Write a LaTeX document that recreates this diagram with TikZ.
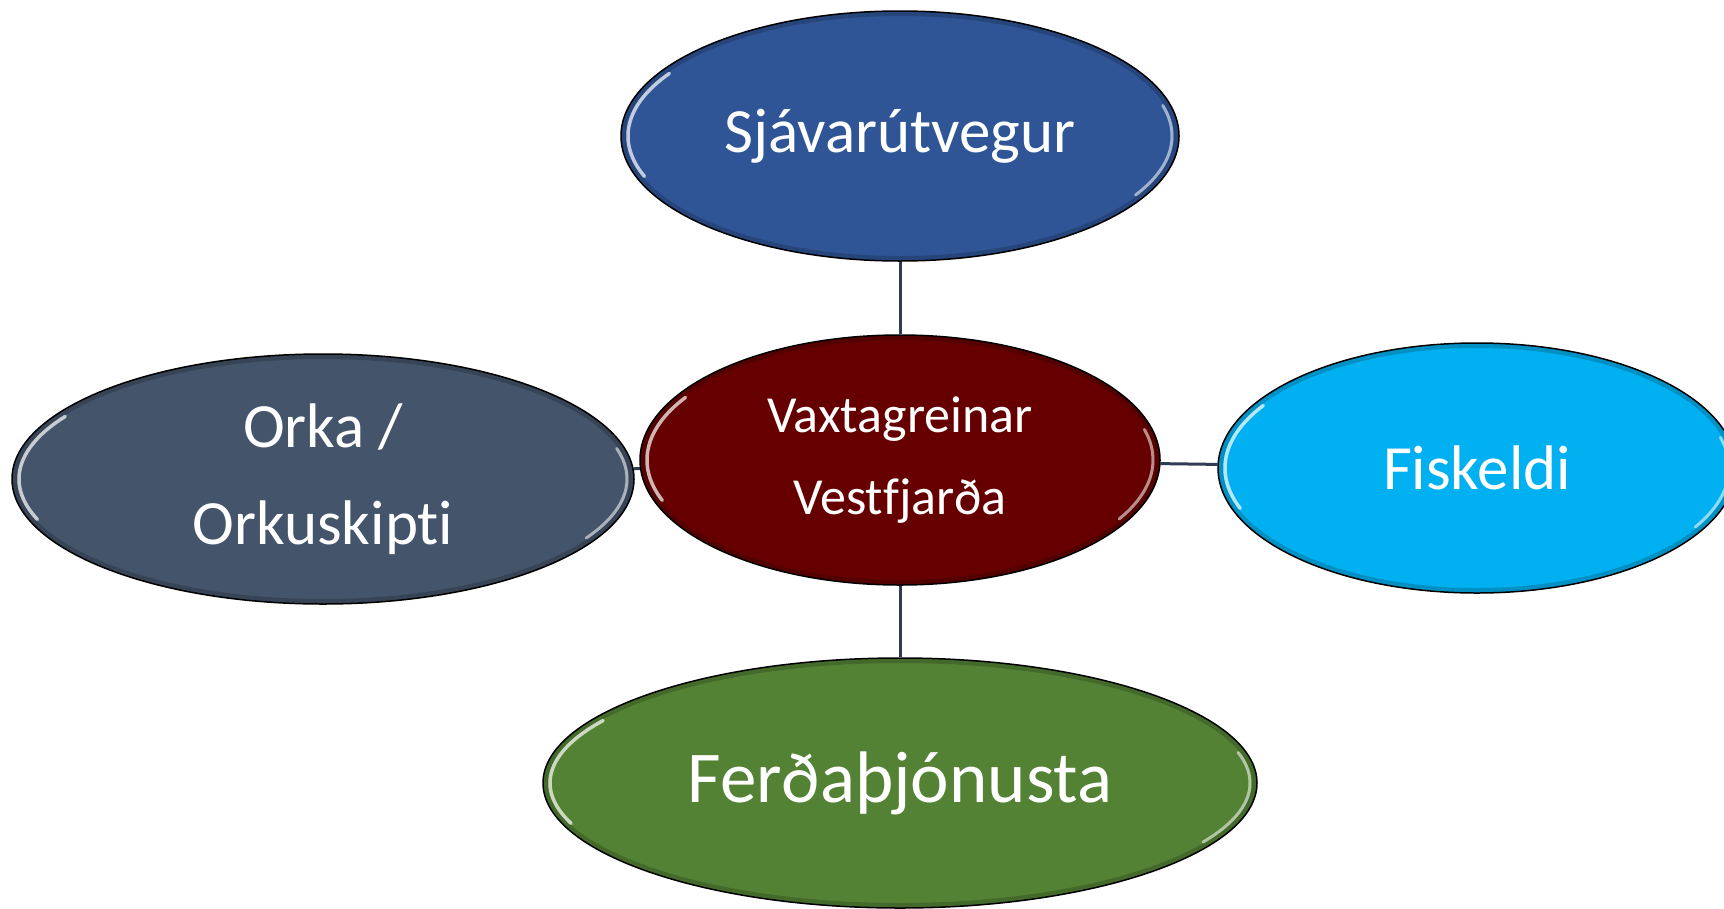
\documentclass[tikz,border=0pt]{standalone}
\usepackage{fontspec}
\setmainfont{Carlito}[Ligatures={NoCommon}]
\usetikzlibrary{shapes.geometric,backgrounds}
\definecolor{cTop}{HTML}{2F5597}
\definecolor{cMid}{HTML}{660000}
\definecolor{cLeft}{HTML}{44546A}
\definecolor{cRight}{HTML}{00B0F0}
\definecolor{cBot}{HTML}{548235}
\definecolor{cLink}{HTML}{2E3D52}
\tikzset{
  bubble/.style n args={3}{ellipse, fill=#1, draw=black, line width=1.5pt,
    inner sep=0pt, minimum width=#2, minimum height=#3, text=white, align=center,
    path picture={
      \draw[black, opacity=.18, line width=10pt]
        (path picture bounding box.center) ellipse [x radius={#2/2}, y radius={#3/2}];
    }},
  link/.style={draw=cLink, line width=3pt},
  shine/.style={white, opacity=.7, line width=3.5pt, line cap=round}
}
% highlight arcs: node, x radius, y radius (pt, inset already applied)
\newcommand\glint[3]{%
  \draw[shine] ([shift={(148:#2pt and #3pt)}]#1.center)
     arc[start angle=148, end angle=200, x radius=#2pt, y radius=#3pt];
  \draw[shine, opacity=.55, line width=3pt] ([shift={(-30:#2pt and #3pt)}]#1.center)
     arc[start angle=-30, end angle=15, x radius=#2pt, y radius=#3pt];
}
\begin{document}
\begin{tikzpicture}[x=1pt,y=-1pt]
\useasboundingbox (0,0) rectangle (1724,908);
\node[bubble={cTop}{558pt}{250pt}, font=\fontsize{63}{76}\selectfont] (sea) at (900,136) {Sjávarútvegur};
\node[bubble={cMid}{520pt}{250pt}, font=\fontsize{52}{82}\selectfont] (mid) at (900,460) {Vaxtagreinar\\Vestfjarða};
\node[bubble={cLeft}{622pt}{250pt}, font=\fontsize{63}{97}\selectfont] (energy) at (323,479) {Orka /\\Orkuskipti};
\node[bubble={cRight}{518pt}{250pt}, font=\fontsize{63}{76}\selectfont] (fish) at (1477,468) {Fiskeldi};
\node[bubble={cBot}{714pt}{250pt}, font=\fontsize{73}{88}\selectfont] (tour) at (900,783) {Ferðaþjónusta};
\glint{sea}{272}{118}
\glint{mid}{253}{118}
\glint{energy}{304}{118}
\glint{fish}{252}{118}
\glint{tour}{350}{118}
\begin{scope}[on background layer]
\draw[link] (sea.south) -- (mid.north);
\draw[link] (mid.south) -- (tour.north);
\draw[link] (energy) -- (mid);
\draw[link] (mid) -- (fish);
\end{scope}
\end{tikzpicture}
\end{document}
